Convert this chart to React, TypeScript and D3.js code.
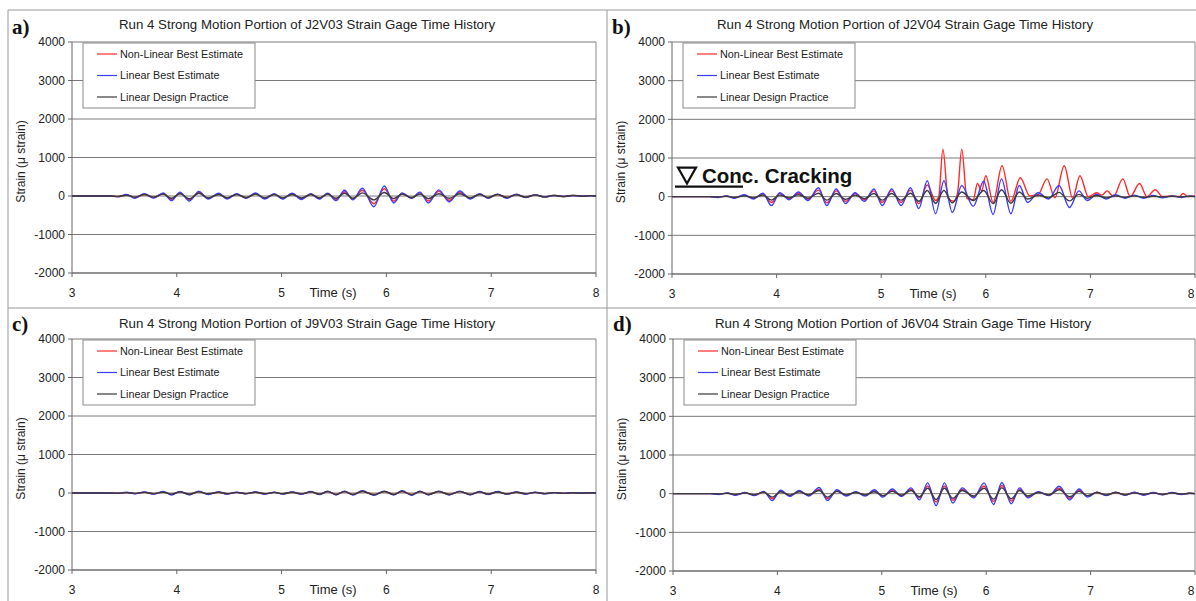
import React from "react";
import * as d3 from "d3";

// Shared time stamps (s) of the sampled extrema
const TIME = [3.0, 3.36, 3.44, 3.52, 3.60, 3.69, 3.78, 3.87, 3.95, 4.03, 4.12, 4.21, 4.30, 4.40, 4.48, 4.57, 4.66, 4.75, 4.84, 4.93, 5.01, 5.10, 5.19, 5.28, 5.36, 5.44, 5.52, 5.60, 5.68, 5.77, 5.88, 5.98, 6.07, 6.15, 6.24, 6.32, 6.40, 6.50, 6.60, 6.70, 6.80, 6.89, 6.97, 7.06, 7.15, 7.24, 7.33, 7.42, 7.51, 7.60, 7.69, 7.78, 7.87, 7.95, 8.0];

const SERIES_NAMES = ["Non-Linear Best Estimate", "Linear Best Estimate", "Linear Design Practice"];
const X_TICKS = [3, 4, 5, 6, 7, 8];
const Y_TICKS = [-2000, -1000, 0, 1000, 2000, 3000, 4000];

// Panel a: J2V03
const A_NONLIN = [0,0,-15,30,-40,40,-40,60,-90,80,-100,90,-60,50,-60,50,-50,60,-60,50,-60,60,-70,50,-60,60,-90,110,-80,150,-200,190,-130,60,-50,80,-130,120,-110,100,-60,50,-50,40,-40,40,-30,30,-20,10,-10,10,0,5,0];
const A_LIN = [0,0,-20,40,-60,60,-50,80,-120,100,-130,120,-80,70,-80,60,-60,80,-80,60,-80,70,-90,60,-80,70,-120,150,-100,200,-280,260,-180,80,-60,100,-180,160,-150,130,-80,60,-60,50,-60,50,-40,30,-20,10,-10,10,0,5,0];
const A_DESIGN = [0,0,-10,20,-30,40,-30,50,-60,60,-70,70,-50,40,-50,40,-40,50,-50,40,-50,40,-50,40,-50,50,-60,70,-60,80,-100,90,-70,50,-40,50,-70,60,-60,60,-50,40,-40,40,-40,30,-30,30,-30,20,-20,20,-10,10,0];

// Panel b: J2V04 (non-linear has its own samples)
const B_NONLIN_T = [3.0, 3.36, 3.44, 3.52, 3.60, 3.69, 3.78, 3.87, 3.95, 4.03, 4.12, 4.21, 4.30, 4.40, 4.48, 4.57, 4.66, 4.75, 4.84, 4.93, 5.01, 5.10, 5.19, 5.28, 5.36, 5.44, 5.52, 5.55, 5.59, 5.64, 5.69, 5.73, 5.77, 5.82, 5.88, 5.92, 5.96, 6.00, 6.07, 6.155, 6.24, 6.33, 6.42, 6.50, 6.585, 6.66, 6.75, 6.83, 6.90, 6.98, 7.06, 7.11, 7.16, 7.22, 7.31, 7.38, 7.47, 7.54, 7.62, 7.69, 7.78, 7.85, 7.885, 7.93, 8.0];
const B_NONLIN = [0,0,-15,15,-30,40,-40,70,-150,80,-60,90,-70,170,-160,150,-120,80,-80,150,-150,150,-150,170,-180,300,-100,0,1230,-50,-120,100,1230,-50,-80,340,150,540,-150,800,-120,490,20,50,460,-30,800,-40,540,0,100,40,150,0,460,0,340,0,180,0,20,0,80,0,20];
const B_LIN = [0,0,-20,20,-40,50,-60,90,-230,100,-80,120,-100,230,-230,200,-180,100,-120,200,-230,200,-230,230,-310,410,-440,410,-410,290,-250,400,-460,460,-440,290,-150,100,-60,290,-280,150,-100,60,-60,50,-40,40,-40,30,-30,20,-20,20,0];
const B_DESIGN = [0,0,-10,10,-20,20,-30,40,-90,40,-30,50,-40,90,-90,80,-70,40,-50,80,-90,80,-90,90,-120,160,-170,160,-160,120,-100,160,-180,180,-170,120,-60,40,-30,110,-110,60,-40,30,-30,20,-20,20,-20,10,-10,10,-10,10,0];

// Panel c: J9V03
const C_NONLIN = [0,0,-5,10,-15,20,-20,30,-35,30,-35,35,-30,20,-20,15,-15,20,-20,15,-20,20,-20,30,-30,35,-35,35,-35,40,-40,35,-35,40,-40,35,-35,35,-35,35,-35,30,-30,30,-20,20,-20,15,-15,10,-5,5,0,0,0];
const C_LIN = [0,0,-10,20,-20,30,-30,40,-50,40,-50,50,-40,30,-30,20,-20,30,-30,20,-30,30,-30,40,-40,50,-50,50,-50,60,-60,50,-50,60,-60,50,-50,50,-50,50,-50,40,-40,40,-30,30,-30,20,-20,10,-10,10,0,5,0];
const C_DESIGN = [0,0,-5,10,-10,15,-15,20,-30,30,-30,30,-20,20,-20,15,-15,20,-20,15,-20,20,-25,30,-30,40,-40,40,-40,45,-45,40,-40,45,-45,40,-40,40,-40,35,-35,30,-30,25,-25,20,-20,15,-15,10,-10,5,-5,5,0];

// Panel d: J6V04
const D_NONLIN = [0,0,-15,15,-30,20,-35,40,-130,60,-50,60,-40,110,-130,70,-40,40,-40,70,-60,80,-50,110,-110,200,-220,200,-170,110,-80,200,-200,210,-190,110,-80,40,-40,140,-120,90,-60,30,-40,30,-30,30,-30,20,-20,20,-15,10,0];
const D_LIN = [0,0,-20,20,-40,30,-50,60,-180,90,-70,80,-60,160,-180,100,-60,50,-60,100,-90,120,-70,150,-160,280,-310,280,-240,150,-110,280,-280,290,-260,150,-110,50,-50,190,-160,120,-90,40,-50,40,-40,40,-40,30,-30,30,-20,10,0];
const D_DESIGN = [0,0,-10,10,-20,20,-30,40,-90,50,-40,50,-30,80,-90,60,-30,30,-30,50,-50,60,-40,80,-80,140,-150,140,-120,80,-60,140,-140,150,-130,80,-60,30,-30,100,-80,60,-50,30,-30,30,-30,20,-20,20,-20,20,-10,10,0];

const COLORS = ["#ff2a2a", "#3c3cff", "#3a3a3a"];
const FONT = "Liberation Sans, Arial, sans-serif";

type Series = { t: number[]; v: number[]; color: string };
type PanelCfg = {
  L: number; R: number; T: number; B: number;
  letter: string; title: string; titleX: number; titleY: number;
  series: Series[]; crack?: boolean;
};

const PANELS: PanelCfg[] = [
  { L: 72, R: 596, T: 42, B: 273, letter: "a)", title: "Run 4 Strong Motion Portion of J2V03 Strain Gage Time History", titleX: 307, titleY: 29,
    series: [{ t: TIME, v: A_NONLIN, color: COLORS[0] }, { t: TIME, v: A_LIN, color: COLORS[1] }, { t: TIME, v: A_DESIGN, color: COLORS[2] }] },
  { L: 672, R: 1195, T: 42, B: 274, letter: "b)", title: "Run 4 Strong Motion Portion of J2V04 Strain Gage Time History", titleX: 905, titleY: 29,
    series: [{ t: B_NONLIN_T, v: B_NONLIN, color: COLORS[0] }, { t: TIME, v: B_LIN, color: COLORS[1] }, { t: TIME, v: B_DESIGN, color: COLORS[2] }], crack: true },
  { L: 72, R: 596, T: 339, B: 570, letter: "c)", title: "Run 4 Strong Motion Portion of J9V03 Strain Gage Time History", titleX: 307, titleY: 328,
    series: [{ t: TIME, v: C_NONLIN, color: COLORS[0] }, { t: TIME, v: C_LIN, color: COLORS[1] }, { t: TIME, v: C_DESIGN, color: COLORS[2] }] },
  { L: 673, R: 1195, T: 339, B: 571, letter: "d)", title: "Run 4 Strong Motion Portion of J6V04 Strain Gage Time History", titleX: 903, titleY: 328,
    series: [{ t: TIME, v: D_NONLIN, color: COLORS[0] }, { t: TIME, v: D_LIN, color: COLORS[1] }, { t: TIME, v: D_DESIGN, color: COLORS[2] }] },
];

function Panel({ p }: { p: PanelCfg }) {
  const x = d3.scaleLinear().domain([3, 8]).range([p.L, p.R]);
  const y = d3.scaleLinear().domain([-2000, 4000]).range([p.B, p.T]);
  const line = d3.line<[number, number]>().x((d) => x(d[0])).y((d) => y(d[1])).curve(d3.curveMonotoneX);
  const midY = (p.T + p.B) / 2 + 4;
  return (
    <g>
      {/* panel letter */}
      <text x={p.L - 60} y={p.T - 8} fontFamily="Liberation Serif, Times New Roman, serif" fontSize={21} fontWeight="bold" fill="#111">{p.letter}</text>
      <text x={p.titleX} y={p.titleY} textAnchor="middle" fontFamily={FONT} fontSize={13.3} fill="#222">{p.title}</text>
      {/* grid */}
      {Y_TICKS.map((t) => (
        <line key={"g" + t} x1={p.L} x2={p.R} y1={y(t)} y2={y(t)} stroke="#7a7a7a" strokeWidth={1} />
      ))}
      <line x1={p.R} x2={p.R} y1={p.T} y2={p.B} stroke="#8a8a8a" strokeWidth={1} />
      {/* axes */}
      <line x1={p.L} x2={p.L} y1={p.T} y2={p.B} stroke="#666" strokeWidth={1} />
      <line x1={p.L} x2={p.R} y1={p.B} y2={p.B} stroke="#666" strokeWidth={1} />
      {Y_TICKS.map((t) => (
        <g key={"yt" + t}>
          <line x1={p.L - 4} x2={p.L} y1={y(t)} y2={y(t)} stroke="#666" />
          <text x={p.L - 7} y={y(t)} dy="0.35em" textAnchor="end" fontFamily={FONT} fontSize={12} fill="#222">{t}</text>
        </g>
      ))}
      {X_TICKS.map((t, i) => (
        <g key={"xt" + t}>
          <line x1={x(t)} x2={x(t)} y1={p.B} y2={p.B + 4} stroke="#666" />
          <text x={i === X_TICKS.length - 1 && p.R > 1000 ? x(t) - 4 : x(t)} y={p.B + 24} textAnchor="middle" fontFamily={FONT} fontSize={12} fill="#222">{t}</text>
        </g>
      ))}
      <text x={p.L + 261} y={p.B + 24} textAnchor="middle" fontFamily={FONT} fontSize={13} fill="#222">Time (s)</text>
      <text transform={`translate(${p.L - 47},${midY}) rotate(-90)`} textAnchor="middle" fontFamily={FONT} fontSize={12} fill="#222">Strain (μ strain)</text>
      {/* series */}
      {p.series.map((s, i) => (
        <path key={"s" + i} d={line(s.t.map((tt, k) => [tt, s.v[k]] as [number, number])) || ""} fill="none" stroke={s.color} strokeWidth={1.4} />
      ))}
      {/* legend */}
      <rect x={p.L + 11} y={p.T + 1} width={172} height={65} fill="#fff" stroke="#8a8a8a" />
      {SERIES_NAMES.map((n, i) => (
        <g key={"l" + i}>
          <line x1={p.L + 25} x2={p.L + 45} y1={p.T + 12 + i * 21.5} y2={p.T + 12 + i * 21.5} stroke={COLORS[i]} strokeWidth={1.2} />
          <text x={p.L + 48} y={p.T + 12 + i * 21.5} dy="0.35em" fontFamily={FONT} fontSize={10.8} fill="#222">{n}</text>
        </g>
      ))}
      {p.crack && (
        <g>
          <polygon points={`${p.L + 6},${y(750)} ${p.L + 24},${y(750)} ${p.L + 15},${y(340)}`} fill="none" stroke="#111" strokeWidth={2.2} />
          <line x1={p.L + 3} x2={p.L + 71} y1={y(260)} y2={y(260)} stroke="#111" strokeWidth={2.2} />
          <text x={p.L + 30} y={y(360)} fontFamily={FONT} fontSize={20.5} fontWeight="bold" fill="#111">Conc. Cracking</text>
        </g>
      )}
    </g>
  );
}

export default function App() {
  return (
    <svg width={1196} height={601} style={{ position: "absolute", left: 0, top: 0, background: "#fff" }}>
      <rect x={0} y={0} width={1196} height={601} fill="#fff" />
      {/* table frame */}
      <line x1={8} x2={1196} y1={10} y2={10} stroke="#999" />
      <line x1={8} x2={8} y1={10} y2={601} stroke="#999" />
      <line x1={607} x2={607} y1={10} y2={601} stroke="#999" />
      <line x1={8} x2={1196} y1={308} y2={308} stroke="#999" />
      {PANELS.map((p, i) => (
        <Panel key={i} p={p} />
      ))}
    </svg>
  );
}
